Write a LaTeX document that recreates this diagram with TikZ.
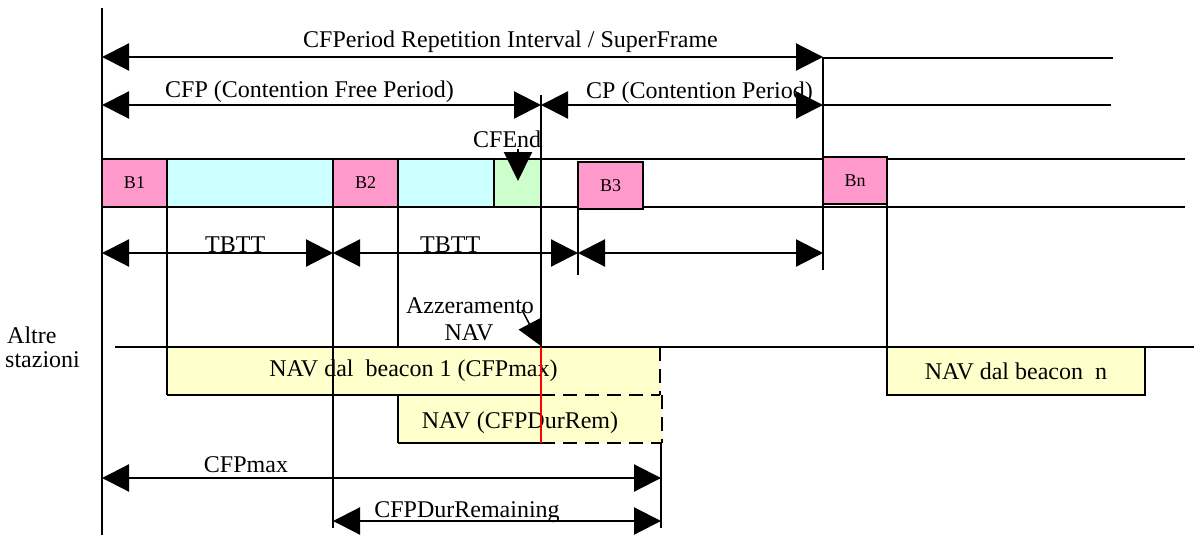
\documentclass[tikz,border=0pt]{standalone}
\usepackage{fontspec}
\setmainfont{Liberation Serif}
\usetikzlibrary{arrows.meta}
\definecolor{beaconpink}{HTML}{FF99CC}
\definecolor{datacyan}{HTML}{CCFFFF}
\definecolor{endgreen}{HTML}{CCFFCC}
\definecolor{navyellow}{HTML}{FFFFCC}
\newcommand{\bigfont}{\fontsize{24}{26}\selectfont}
\newcommand{\smallfont}{\fontsize{18}{20}\selectfont}
\tikzset{
  bigtip/.tip={Triangle[length=27pt,width=27pt]},
  rule/.style={line width=1.5pt},
  span/.style={line width=2.2pt, bigtip-bigtip},
  slot/.style={draw, line width=1.5pt, inner sep=0pt, font=\smallfont},
  navbox/.style={fill=navyellow, inner sep=0pt, font=\bigfont},
  txt/.style={inner sep=0pt, font=\bigfont, anchor=base},
  txtw/.style={inner sep=0pt, font=\bigfont, anchor=base west},
  cut/.style={line width=1.5pt, dash pattern=on 14pt off 8pt},
}
\begin{document}
\begin{tikzpicture}[x=1pt,y=-1pt]
\useasboundingbox (0,0) rectangle (1194,535);

% ---- named time marks
\coordinate (sfL) at (102,57);  \coordinate (sfR) at (823,57);
\coordinate (sfE) at (1113,58);
\coordinate (cfpL) at (102,105); \coordinate (cfpR) at (541,105);
\coordinate (cpR) at (823,105);  \coordinate (cpE) at (1111,105);
\coordinate (tb0) at (102,253);  \coordinate (tb1) at (333,253);
\coordinate (tb2) at (578,253);  \coordinate (tb3) at (823,253);
\coordinate (mxL) at (102,478);  \coordinate (mxR) at (661,478);
\coordinate (drL) at (333,521);  \coordinate (drR) at (661,521);
\coordinate (endTop) at (518,149); \coordinate (endTip) at (518,181);
\coordinate (rstTop) at (522,310); \coordinate (rstTip) at (541,346);
\coordinate (altL) at (115,347); \coordinate (altR) at (1194,347);

% ---- medium time line
\draw[rule] (102,159) -- (1185,159);
\draw[rule] (102,207) -- (1185,207);

\node[slot, fill=beaconpink, minimum width=65pt, minimum height=48pt] (b1) at (134.5,183) {B1};
\node[slot, fill=datacyan, minimum width=166pt, minimum height=48pt] (d1) at (250,183) {};
\node[slot, fill=beaconpink, minimum width=65pt, minimum height=48pt] (b2) at (365.5,183) {B2};
\node[slot, fill=datacyan, minimum width=96pt, minimum height=48pt] (d2) at (446,183) {};
\node[slot, fill=endgreen, minimum width=47pt, minimum height=48pt] (cfend) at (517.5,183) {};
\node[slot, line width=2pt, fill=beaconpink, minimum width=65pt, minimum height=47pt] (b3) at (610.5,185.5) {B3};
\node[slot, line width=2pt, fill=beaconpink, minimum width=64pt, minimum height=47pt] (bn) at (855,180.5) {Bn};

% ---- NAV of the other stations
\node[navbox, minimum width=493pt, minimum height=48pt] (nav1) at (413.5,371) {NAV dal\ \ beacon 1 (CFPmax)};
\node[navbox, minimum width=264pt, minimum height=48pt] (nav2) at (530,419) {};
\node[txt] (nav2t) at (520,428) {NAV (CFPDurRem)};
\node[navbox, draw, line width=1.5pt, minimum width=258pt, minimum height=48pt] (navn) at (1016,371) {NAV dal beacon\ \ n};

\draw[rule] (altL) -- (altR);

% ---- vertical markers
\draw[rule] (102,8) -- (102,535);
\draw[rule] (167,159) -- (167,395);
\draw[rule] (333,159) -- (333,528);
\draw[rule] (398,207) -- (398,347);
\draw[rule] (398,395) -- (398,443);
\draw[rule] (541,95) -- (541,347);
\draw[rule] (578,162) -- (578,275);
\draw[rule] (823,57) -- (823,270);
\draw[rule] (887,204) -- (887,347);
\draw[rule] (661,443) -- (661,528);

% NAV box outlines: solid up to the reset, dashed after it
\draw[rule] (167,395) -- (541,395);
\draw[cut] (541,395) -- (660,395);
\draw[cut] (660,347) -- (660,395);
\draw[rule] (398,443) -- (541,443);
\draw[cut] (541,443) -- (662,443);
\draw[cut] (662,395) -- (662,443);
\draw[red, line width=1.5pt] (541,347) -- (541,443);

% ---- extension lines
\draw[rule] (sfR |- sfE) -- (sfE);
\draw[rule] (cpR) -- (cpE);

% ---- spans
\draw[span] (sfL) -- (sfR);
\draw[span] (cfpL) -- (cfpR);
\draw[span] (cfpR) -- (cpR);
\draw[span] (tb0) -- (tb1);
\draw[span] (tb1) -- (tb2);
\draw[span] (tb2) -- (tb3);
\draw[span] (mxL) -- (mxR);
\draw[span] (drL) -- (drR);

% ---- pointers
\draw[line width=2pt, -{Triangle[length=29pt,width=28pt]}] (endTop) -- (endTip);
\draw[line width=1.5pt, -{Triangle[length=25pt,width=24pt]}] (rstTop) -- (rstTip);

% ---- labels
\node[txtw] (lsf) at (303,48) {CFPeriod Repetition Interval / SuperFrame};
\node[txtw] (lcfp) at (165,97) {CFP (Contention Free Period)};
\node[txtw] (lcp) at (586,98) {CP (Contention Period)};
\node[txtw] (lend) at (473,147) {CFEnd};
\node[txtw] (ltb1) at (205,252) {TBTT};
\node[txtw] (ltb2) at (420,252) {TBTT};
\node[txt] (lrst1) at (470,313) {Azzeramento};
\node[txt] (lrst2) at (469,340) {NAV};
\node[txtw] (lalt1) at (7,343) {Altre};
\node[txtw] (lalt2) at (5,367) {stazioni};
\node[txt] (lmx) at (246,472) {CFPmax};
\node[txt] (ldr) at (467,517) {CFPDurRemaining};
\end{tikzpicture}
\end{document}
